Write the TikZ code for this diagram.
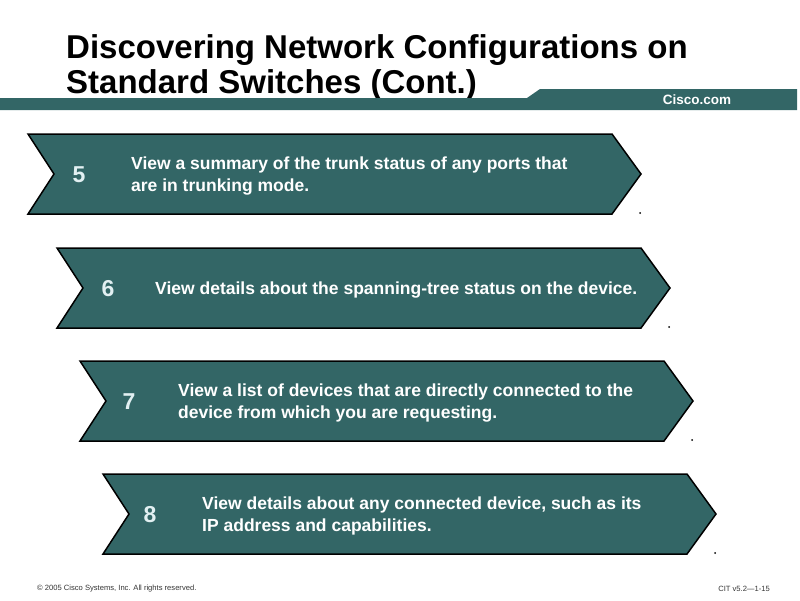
\documentclass[tikz,border=0pt]{standalone}
\usepackage{fontspec}
\setmainfont{Liberation Sans}
\usepackage{tikz}
\usetikzlibrary{calc}
\definecolor{ciscoteal}{RGB}{51,102,102}
\definecolor{numwhite}{RGB}{226,240,242}

\begin{document}
\begin{tikzpicture}[x=1pt,y=-1pt,
  chevron/.style={fill=ciscoteal,draw=black,line width=1.5pt,line join=miter},
  stepnum/.style={text=numwhite,font=\bfseries\fontsize{23}{23}\selectfont,inner sep=0pt},
  steptext/.style={text=white,font=\bfseries\fontsize{17.5}{22}\selectfont,align=left,anchor=west,inner sep=0pt},
  foot/.style={text=black!80,font=\fontsize{7.6}{8}\selectfont,inner sep=0pt}]
\useasboundingbox (0,0) rectangle (800,600);
% title
\node[anchor=base west,inner sep=0pt,font=\bfseries\fontsize{33}{35}\selectfont] (title1) at (66,58) {Discovering Network Configurations on};
\node[anchor=base west,inner sep=0pt,font=\bfseries\fontsize{33}{35}\selectfont] (title2) at (66,93) {Standard Switches (Cont.)};
% header band
\fill[ciscoteal] (0,98) -- (527,98) -- (540,89) -- (797,89) -- (797,110) -- (0,110) -- cycle;
\node[text=white,font=\bfseries\fontsize{13.5}{13.5}\selectfont,inner sep=0pt] (cisco) at (697,100) {Cisco.com};
% steps
\foreach \l/\t/\nx/\tx/\n/\txt in {28/134/79/131/5/{View a summary of the trunk status of any ports that\\are in trunking mode.},
                          57/248/108/155/6/{View details about the spanning-tree status on the device.},
                          80/361/129/178/7/{View a list of devices that are directly connected to the\\device from which you are requesting.},
                          103/474/150/202/8/{View details about any connected device, such as its\\IP address and capabilities.}}
{
  \draw[chevron] (\l,\t) -- ++(584,0) -- ++(29,40) -- ++(-29,40) -- ++(-584,0) -- ++(26,-40) -- cycle;
  \fill (\l+612,\t+79) circle (1pt);
  \node[stepnum] (num\n) at (\nx,\t+41) {\n};
  \node[steptext] (txt\n) at (\tx,\t+42) {\txt};
}
% footer
\node[foot,anchor=west] (copy) at (37,589) {\textcopyright\ 2005 Cisco Systems, Inc. All rights reserved.};
\node[foot,anchor=east] (code) at (770,589) {CIT v5.2---1-15};
\end{tikzpicture}
\end{document}
